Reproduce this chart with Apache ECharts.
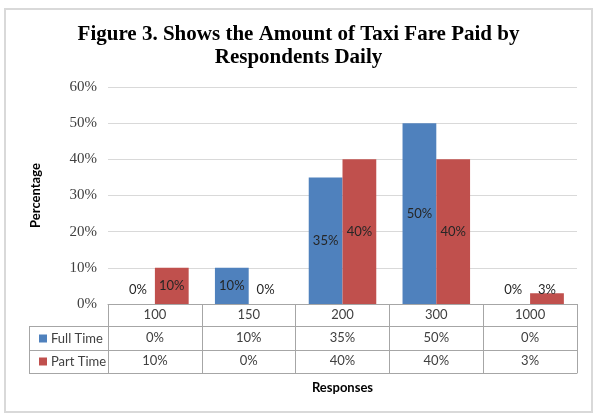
<!DOCTYPE html>
<html>
<head>
<meta charset="utf-8">
<script src="https://cdn.jsdelivr.net/npm/echarts@6/dist/echarts.min.js"></script>
<style>
  html, body { margin: 0; padding: 0; background: #fff; }
  #main { width: 597px; height: 415px; }
</style>
</head>
<body>
<div id="main"></div>
<script>
var categories = ['100', '150', '200', '300', '1000'];
var fullTime = [0, 10, 35, 50, 0];
var partTime = [10, 0, 40, 40, 3];
var seriesNames = ['Full Time', 'Part Time'];
var yTicks = [0, 10, 20, 30, 40, 50, 60];

var sans = 'Lato';
var lineCol = '#a6a6a6';
var textCol = '#404040';

// small values get their label just above the axis, like Excel does
function barData(arr) {
    return arr.map(function (v) {
        return {
            value: v,
            label: v < 5 ? { position: 'insideBottom', distance: 8 } : { position: 'inside' }
        };
    });
}

function tableAxis(offset, tickLen, values, margin, extra) {
    var ax = {
        type: 'category',
        gridIndex: 0,
        position: 'bottom',
        offset: offset,
        data: categories,
        axisLine: { show: true, lineStyle: { color: lineCol, width: 1 } },
        axisTick: { show: tickLen > 0, length: tickLen, lineStyle: { color: lineCol, width: 1 } },
        axisLabel: {
            show: !!values,
            margin: margin,
            verticalAlign: 'middle',
            fontFamily: sans,
            fontSize: 13,
            color: textCol,
            formatter: function (val, idx) { return values ? values[idx] : val; }
        },
        splitLine: { show: false }
    };
    return Object.assign(ax, extra || {});
}

var chart = echarts.init(document.getElementById('main'));
var option = {
    backgroundColor: '#fff',
    animation: false,
    title: {
        text: 'Figure 3. Shows the Amount of Taxi Fare Paid by\nRespondents Daily',
        left: 'center',
        top: 18,
        textStyle: {
            fontFamily: 'Liberation Serif',
            fontWeight: 'bold',
            fontSize: 21,
            lineHeight: 23,
            color: '#000'
        }
    },
    legend: {
        orient: 'vertical',
        left: 34,
        top: 326,
        itemWidth: 8,
        itemHeight: 8,
        itemGap: 8,
        icon: 'rect',
        data: seriesNames,
        textStyle: { fontFamily: sans, fontSize: 13, color: textCol, lineHeight: 15, padding: [0, 0, 0, -1] }
    },
    grid: { left: 108, right: 20, top: 87, bottom: 111 },
    xAxis: [
        tableAxis(0, 22, categories, 11),
        tableAxis(22, 24, fullTime.map(function (v) { return v + '%'; }), 12),
        tableAxis(46, 23, partTime.map(function (v) { return v + '%'; }), 11),
        tableAxis(69, 0, null, 0, {
            name: 'Responses',
            nameLocation: 'middle',
            nameGap: 8,
            nameTextStyle: { fontFamily: sans, fontWeight: 'bold', fontSize: 13, color: '#000', verticalAlign: 'top' }
        })
    ],
    yAxis: {
        type: 'value',
        min: yTicks[0],
        max: yTicks[yTicks.length - 1],
        interval: 10,
        name: 'Percentage',
        nameLocation: 'middle',
        nameGap: 66,
        nameTextStyle: { fontFamily: sans, fontWeight: 'bold', fontSize: 13, color: '#000' },
        axisLine: { show: false },
        axisTick: { show: false },
        axisLabel: {
            margin: 11,
            fontFamily: 'Liberation Serif',
            fontSize: 15,
            color: '#404040',
            formatter: '{value}%'
        },
        splitLine: { lineStyle: { color: '#d9d9d9', width: 1 } }
    },
    series: [
        {
            name: seriesNames[0],
            type: 'bar',
            xAxisIndex: 0,
            data: barData(fullTime),
            itemStyle: { color: '#4f81bd' },
            barGap: '0%',
            barCategoryGap: '28%',
            label: { show: true, formatter: '{c}%', fontFamily: sans, fontSize: 13, color: '#262626' }
        },
        {
            name: seriesNames[1],
            type: 'bar',
            xAxisIndex: 0,
            data: barData(partTime),
            itemStyle: { color: '#c0504d' },
            barGap: '0%',
            barCategoryGap: '28%',
            label: { show: true, formatter: '{c}%', fontFamily: sans, fontSize: 13, color: '#262626' }
        }
    ]
};
chart.setOption(option);

// outer frame and the legend column of the data table
var gridRect = chart.getModel().getComponent('grid', 0).coordinateSystem.getRect();
var tableLeft = 29;
var rowY = [gridRect.y + gridRect.height + 22, gridRect.y + gridRect.height + 46, gridRect.y + gridRect.height + 69];
var g = [{
    type: 'rect',
    shape: { x: 5, y: 9, width: 587, height: 403 },
    style: { fill: 'none', stroke: '#d9d9d9', lineWidth: 2 },
    z: 100,
    silent: true
}];
rowY.forEach(function (y) {
    g.push({ type: 'line', shape: { x1: tableLeft, y1: y + 0.5, x2: gridRect.x, y2: y + 0.5 }, style: { stroke: lineCol, lineWidth: 1 }, silent: true });
});
g.push({ type: 'line', shape: { x1: tableLeft + 0.5, y1: rowY[0], x2: tableLeft + 0.5, y2: rowY[2] + 1 }, style: { stroke: lineCol, lineWidth: 1 }, silent: true });
chart.setOption({ graphic: g });
</script>
</body>
</html>
